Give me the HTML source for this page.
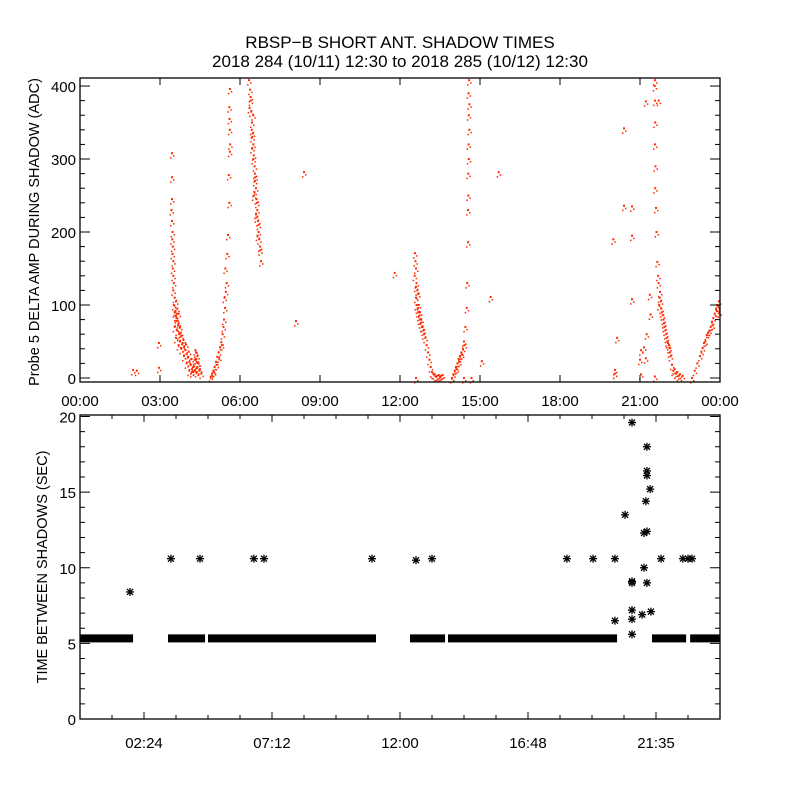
<!DOCTYPE html>
<html><head><meta charset="utf-8"><style>
html,body{margin:0;padding:0;background:#fff;}
svg{display:block;font-family:"Liberation Sans",sans-serif;}
</style></head><body>
<svg id="chart" width="800" height="800" viewBox="0 0 800 800">
<rect x="0" y="0" width="800" height="800" fill="#fff"/>
<text x="400" y="48" font-size="17" text-anchor="middle">RBSP−B SHORT ANT. SHADOW TIMES</text>
<text x="400" y="67" font-size="17" text-anchor="middle">2018 284 (10/11) 12:30 to 2018 285 (10/12) 12:30</text>
<g id="topPanel"></g>
<g id="botPanel"></g>
<text transform="translate(39,232) rotate(-90)" font-size="14.5" text-anchor="middle">Probe 5 DELTA AMP DURING SHADOW (ADC)</text>
<text transform="translate(47,567) rotate(-90)" font-size="14.5" text-anchor="middle">TIME BETWEEN SHADOWS (SEC)</text>
</svg>
<script>
// ---- top panel data: [hour, ADC] ----
const ampHours = [3.45,3.45,3.45,3.43,3.45,3.47,3.46,3.48,3.47,3.5,3.48,3.5,3.52,3.5,3.55,3.52,3.6,3.65,3.55,3.6,3.7,3.62,3.7,3.55,3.75,3.65,3.72,3.6,3.8,3.75,3.85,3.7,3.9,3.8,3.95,4.0,3.9,4.05,4.1,4.0,4.15,4.2,4.1,4.25,4.3,4.35,4.4,4.45,4.5,4.55,4.2,4.3,4.4,3.58,3.62,3.68,3.78,3.88,3.98,4.08,4.18,4.28,4.38,4.48,4.33,4.36,4.42,
4.9,4.95,5.0,5.05,5.1,5.15,5.2,5.25,5.3,5.35,5.4,5.44,5.42,5.47,5.5,5.45,5.52,5.55,5.6,5.58,5.62,5.62,5.6,5.62,5.61,5.63,5.02,5.12,5.22,5.32,5.38,
6.34,6.4,6.45,6.5,6.55,6.6,6.65,6.7,6.75,6.79,6.38,6.42,6.48,6.52,6.58,6.62,6.68,6.72,6.36,6.44,6.5,6.56,6.64,6.7,6.76,6.4,6.46,6.54,6.6,6.66,6.5,6.56,6.62,6.46,6.52,
12.56,12.58,12.6,12.55,12.62,12.65,12.6,12.7,12.66,12.75,12.72,12.8,12.78,12.85,12.9,12.88,12.95,13.0,13.05,13.1,13.15,13.2,13.3,13.4,13.5,13.6,12.62,12.68,12.74,12.82,12.68,12.6,13.25,13.35,13.45,13.55,
13.95,14.0,14.05,14.1,14.15,14.2,14.25,14.3,14.36,14.4,14.45,14.5,14.52,14.55,14.55,14.56,14.57,14.58,14.56,14.58,14.6,14.57,14.59,14.6,14.12,14.22,14.32,14.42,
21.56,21.56,21.57,21.56,21.58,21.57,21.6,21.62,21.65,21.7,21.75,21.78,21.8,21.85,21.9,21.95,22.0,22.05,22.1,22.15,22.2,22.3,22.4,22.5,22.6,21.72,21.82,21.88,21.92,21.98,22.02,22.08,22.12,22.25,22.35,22.45,21.68,21.74,
22.95,23.05,23.15,23.25,23.35,23.45,23.5,23.6,23.65,23.7,23.75,23.8,23.85,23.9,23.96,23.98,23.55,23.4,23.3,23.72,23.88,23.92,
1.99,2.13,2.96,2.96,8.1,8.4,11.8,15.07,15.4,15.7,12.6,14.4,14.68,
20.4,21.22,20.7,20.7,20.0,20.4,20.7,20.14,20.06,20.06,21.04,21.04,21.0,21.22,21.37,21.4,21.15,21.56,21.7,21.55,21.25];
const ampValues = [308,275,245,230,215,200,190,180,170,160,150,140,130,120,110,100,105,95,90,85,88,78,75,70,70,65,60,55,58,50,48,45,42,40,38,33,30,28,22,20,18,12,10,15,25,35,30,20,12,6,8,10,15,92,82,72,62,52,46,36,26,16,8,10,38,26,20,
2,6,10,15,22,29,35,42,49,60,80,96,110,118,130,150,170,196,240,278,310,340,371,396,355,320,8,18,28,45,70,
408,380,350,320,290,260,230,200,180,160,395,365,335,305,275,245,215,190,370,340,300,270,240,210,175,385,315,255,225,195,360,280,220,330,250,
171,160,150,140,130,120,110,100,95,90,85,80,75,70,60,65,55,45,35,25,15,8,5,3,2,4,100,90,80,70,115,125,6,2,4,3,
0,5,10,15,20,26,30,35,40,50,70,96,130,186,230,280,320,360,250,300,340,390,408,375,12,22,32,45,
408,380,350,320,290,260,233,200,159,130,118,105,95,86,75,65,55,48,41,30,18,12,8,5,3,100,90,80,70,60,50,45,35,10,6,3,140,110,
0,10,20,30,41,50,59,65,70,77,82,88,95,100,105,90,62,48,36,72,92,98,
11,10,48,14,78,282,144,23,111,282,0,0,0,
342,379,235,195,190,236,108,55,11,6,38,5,25,27,114,87,42,2,380,400,60];

// ---- bottom panel data ----
const bandStart = [0,3.3,4.8,12.375,13.8,21.45,22.88];
const bandEnd   = [1.99,4.69,11.1,13.69,20.14,22.73,24];
const bandValue = [5.33,5.33,5.33,5.33,5.33,5.33,5.33];
const gapHours  = [1.875,3.41,4.5,6.52,6.9,10.95,12.6,13.2,18.26,19.24,20.06,21.79,22.61,22.8,22.95,
                   20.7,21.26,21.26,21.38,21.26,21.22,21.15,21.26,21.15,20.44,20.7,20.7,21.26,20.7,20.7,21.08,21.41,20.06,20.7];
const gapValues = [8.4,10.6,10.6,10.6,10.6,10.6,10.5,10.6,10.6,10.6,10.6,10.6,10.6,10.6,10.6,
                   19.6,18.0,16.4,15.2,16.1,14.4,12.3,12.4,10.0,13.5,9.0,9.1,9.0,7.2,6.6,6.9,7.1,6.5,5.6];

const NS='http://www.w3.org/2000/svg';
function mk(parent,tag,attrs){const e=document.createElementNS(NS,tag);for(const k in attrs)e.setAttribute(k,attrs[k]);parent.appendChild(e);return e;}

// top axes
const T={x0:80,x1:720,y0:78,y1:382,vmin:-5.5,vmax:411};
const tx=h=>T.x0+h*(T.x1-T.x0)/24;
const ty=v=>T.y1-(v-T.vmin)*(T.y1-T.y0)/(T.vmax-T.vmin);
const topG=document.getElementById('topPanel');
const tpts=mk(topG,'g',{fill:'#ff2a00'});


const nAmp=Math.min(ampHours.length,ampValues.length);
for(let i=0;i<nAmp;i++){
  const r=mk(tpts,'rect',{x:tx(ampHours[i])-1,y:ty(ampValues[i])-1,width:2,height:2});
  
  
  mk(tpts,'rect',{x:tx(ampHours[i])+1,y:ty(ampValues[i])+2,width:1.5,height:1.5});
  mk(tpts,'rect',{x:tx(ampHours[i])-2,y:ty(ampValues[i])+4,width:1.5,height:1.5});
}
const tframe=mk(topG,'rect',{x:T.x0,y:T.y0,width:T.x1-T.x0,height:T.y1-T.y0,fill:'none',stroke:'#000','stroke-width':1.3});


const topYTicks=[0,100,200,300,400];
for(let v=0;v<=400;v+=20){
  const L=(v%100===0)?10:5;
  mk(topG,'line',{x1:T.x0,x2:T.x0+L,y1:ty(v),y2:ty(v),stroke:'#000'});
  mk(topG,'line',{x1:T.x1,x2:T.x1-L,y1:ty(v),y2:ty(v),stroke:'#000'});
}
topYTicks.forEach(v=>{const t=mk(topG,'text',{x:T.x0-4,y:ty(v)+6,'font-size':15,'text-anchor':'end'});t.textContent=v;
  
  });
const topXLabels=['00:00','03:00','06:00','09:00','12:00','15:00','18:00','21:00','00:00'];
topXLabels.forEach((s,i)=>{const h=i*3;
  mk(topG,'line',{x1:tx(h),x2:tx(h),y1:T.y1,y2:T.y1-7,stroke:'#000'});
  mk(topG,'line',{x1:tx(h),x2:tx(h),y1:T.y0,y2:T.y0+7,stroke:'#000'});
  const t=mk(topG,'text',{x:tx(h),y:406,'font-size':15,'text-anchor':'middle'});t.textContent=s;
  
  });

// bottom axes
const B={x0:80,x1:720,y0:415,y1:719,vmin:0,vmax:20.1};
const bx=h=>B.x0+h*(B.x1-B.x0)/24;
const by=v=>B.y1-(v-B.vmin)*(B.y1-B.y0)/(B.vmax-B.vmin);
const botG=document.getElementById('botPanel');
for(let i=0;i<bandStart.length;i++){
  const r=mk(botG,'rect',{x:bx(bandStart[i]),y:by(bandValue[i])-4,width:bx(bandEnd[i])-bx(bandStart[i]),height:8,fill:'#000'});
  
  
}
function star(x,y){
  const g=mk(botG,'g',{stroke:'#000','stroke-width':1.3});
  
  
  mk(g,'line',{x1:x-4,x2:x+4,y1:y,y2:y});
  mk(g,'line',{x1:x,x2:x,y1:y-4,y2:y+4});
  mk(g,'line',{x1:x-3,x2:x+3,y1:y-3,y2:y+3});
  mk(g,'line',{x1:x-3,x2:x+3,y1:y+3,y2:y-3});
}
const nGap=Math.min(gapHours.length,gapValues.length);
for(let i=0;i<nGap;i++) star(bx(gapHours[i]),by(gapValues[i]));
const bframe=mk(botG,'rect',{x:B.x0,y:B.y0,width:B.x1-B.x0,height:B.y1-B.y0,fill:'none',stroke:'#000','stroke-width':1.3});


const botYTicks=[0,5,10,15,20];
for(let v=0;v<=20;v++){
  const L=(v%5===0)?10:5;
  mk(botG,'line',{x1:B.x0,x2:B.x0+L,y1:by(v),y2:by(v),stroke:'#000'});
  mk(botG,'line',{x1:B.x1,x2:B.x1-L,y1:by(v),y2:by(v),stroke:'#000'});
}
botYTicks.forEach(v=>{const t=mk(botG,'text',{x:B.x0-4,y:by(v)+6,'font-size':15,'text-anchor':'end'});t.textContent=v;
  
  });
for(let k=0;k<=20;k++){const h=k*1.2;const L=((k-2)%4===0)?7:4;
  mk(botG,'line',{x1:bx(h),x2:bx(h),y1:B.y1,y2:B.y1-L,stroke:'#000'});
  mk(botG,'line',{x1:bx(h),x2:bx(h),y1:B.y0,y2:B.y0+L,stroke:'#000'});}
const botXLabelHours=[2.4,7.2,12.0,16.8,21.6];
const botXLabels=['02:24','07:12','12:00','16:48','21:35'];
botXLabels.forEach((s,i)=>{const t=mk(botG,'text',{x:bx(botXLabelHours[i]),y:748,'font-size':15,'text-anchor':'middle'});t.textContent=s;
  
  });
</script>
</body></html>
